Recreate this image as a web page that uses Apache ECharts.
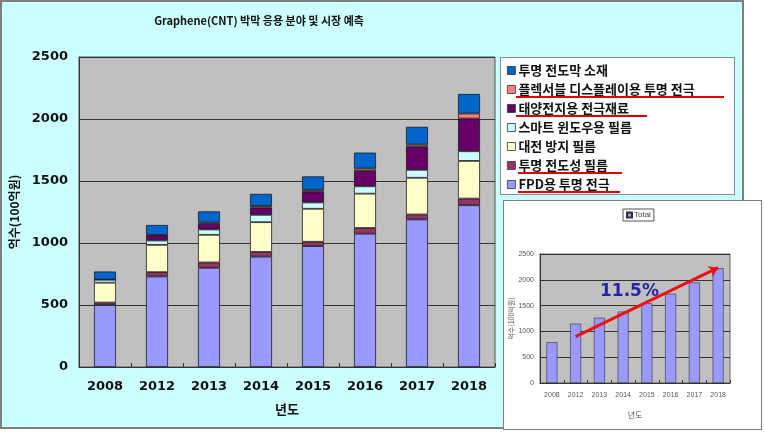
<!DOCTYPE html>
<html>
<head>
<meta charset="utf-8">
<script src="https://cdn.jsdelivr.net/npm/echarts@6/dist/echarts.min.js"></script>
<style>
  body { margin: 0; background: #fff; }
  #wrap { position: relative; width: 764px; height: 433px; }
  #panel { position: absolute; left: 0; top: 0; width: 740px; height: 425px; background: #ccffff; border: 2px solid #7f7f7f; }
  #legendBox { position: absolute; left: 500px; top: 57px; width: 233px; height: 136px; background: #fff; border: 1px solid #8a8a8a; }
  #inset { position: absolute; left: 503px; top: 200px; width: 257px; height: 228px; background: #fff; border: 1px solid #7f7f7f; }
  #main { position: absolute; left: 0; top: 0; width: 764px; height: 433px; }
</style>
</head>
<body>
<div id="wrap">
  <div id="panel"></div>
  <div id="legendBox"></div>
  <div id="inset"></div>
  <div id="main"></div>
</div>
<script>
// 연도
const years = ['2008', '2012', '2013', '2014', '2015', '2016', '2017', '2018']

// 분야별 시장 규모 (억원 x 100), 그림에서 읽은 값
const fpd = [500, 730, 800, 890, 975, 1075, 1190, 1305]          // FPD용 투명 전극
const conductFilm = [20, 35, 43, 38, 35, 46, 40, 53]            // 투명 전도성 필름
const antistatic = [160, 220, 223, 240, 266, 277, 296, 304]     // 대전 방지 필름
const smartWindow = [25, 35, 43, 59, 51, 59, 64, 78]            // 스마트 윈도우용 필름
const solarCell = [0, 40, 46, 59, 89, 124, 188, 264]            // 태양전지용 전극재료
const flexible = [0, 5, 10, 13, 13, 19, 16, 40]                 // 플렉서블 디스플레이용 투명 전극
const material = [65, 80, 90, 97, 108, 129, 143, 158]           // 투명 전도막 소재

// 작은 그림의 Total 값
const totals = [790, 1150, 1265, 1385, 1545, 1730, 1950, 2225]

const yTicks = [0, 500, 1000, 1500, 2000, 2500]

const names = ['FPD용 투명 전극', '투명 전도성 필름', '대전 방지 필름', '스마트 윈도우용 필름', '태양전지용 전극재료', '플렉서블 디스플레이용 투명 전극', '투명 전도막 소재']
const colors = ['#9999ff', '#993366', '#ffffcc', '#ccffff', '#660066', '#ff8080', '#0066cc']
const stacks = [fpd, conductFilm, antistatic, smartWindow, solarCell, flexible, material]

const chart = echarts.init(document.getElementById('main'))

const bold = { fontFamily: 'DejaVu Sans', fontWeight: 'bold', color: '#111' }

const stackSeries = stacks.map((d, i) => ({
  name: names[i],
  type: 'bar',
  stack: 'all',
  xAxisIndex: 0,
  yAxisIndex: 0,
  barWidth: 22,
  data: d,
  itemStyle: { color: colors[i], borderColor: '#1a1a1a', borderWidth: 0.8 }
}))

const option = {
  backgroundColor: 'transparent',
  animation: false,
  title: {
    text: 'Graphene(CNT) 박막 응용 분야 및 시장 예측',
    left: 254,
    top: 10,
    textAlign: 'center',
    textStyle: { fontFamily: 'Noto Sans CJK KR', fontWeight: 'bold', fontSize: 11, color: '#111' }
  },
  legend: [
    {
      data: names.slice().reverse(),
      orient: 'vertical',
      left: 502,
      top: 58,
      itemWidth: 8,
      itemHeight: 8,
      itemGap: 4,
      icon: 'rect',
      textStyle: { fontFamily: 'Noto Sans CJK KR', fontWeight: 'bold', fontSize: 13, lineHeight: 15, color: '#111', padding: [0, 0, 0, -2] },
      itemStyle: { borderColor: '#333', borderWidth: 0.8 }
    },
    {
      data: ['Total'],
      left: 623,
      top: 209,
      itemWidth: 5,
      itemHeight: 5,
      itemGap: 2,
      padding: [2, 3],
      borderColor: '#555',
      borderWidth: 1,
      icon: 'rect',
      textStyle: { fontFamily: 'Liberation Sans', fontSize: 8, color: '#444', padding: [0, 0, 0, -3] }
    }
  ],
  grid: [
    { left: 79, top: 57, width: 416, height: 310, show: true, backgroundColor: '#c0c0c0', borderColor: '#555', borderWidth: 1 },
    { left: 540, top: 254, width: 190, height: 129, show: true, backgroundColor: '#c0c0c0', borderColor: '#666', borderWidth: 1 }
  ],
  xAxis: [
    {
      gridIndex: 0,
      type: 'category',
      data: years,
      name: '년도',
      nameLocation: 'middle',
      nameGap: 36,
      nameTextStyle: { fontFamily: 'Noto Sans CJK KR', fontWeight: 'bold', fontSize: 13, color: '#111' },
      axisLine: { lineStyle: { color: '#333' } },
      axisTick: { show: true, inside: true, length: 4, lineStyle: { color: '#333' } },
      axisLabel: Object.assign({ fontSize: 13, margin: 13 }, bold)
    },
    {
      gridIndex: 1,
      type: 'category',
      data: years,
      name: '년도',
      nameLocation: 'middle',
      nameGap: 28,
      nameTextStyle: { fontFamily: 'Noto Sans CJK KR', fontSize: 8, color: '#555' },
      axisLine: { lineStyle: { color: '#333' } },
      axisTick: { show: true, inside: true, length: 3, lineStyle: { color: '#333' } },
      axisLabel: { fontFamily: 'Liberation Sans', fontSize: 7, color: '#555', margin: 9 }
    }
  ],
  yAxis: [
    {
      gridIndex: 0,
      type: 'value',
      min: yTicks[0],
      max: yTicks[yTicks.length - 1],
      interval: 500,
      name: '억수(100억원)',
      nameLocation: 'middle',
      nameGap: 58,
      nameTextStyle: { fontFamily: 'Noto Sans CJK KR', fontWeight: 'bold', fontSize: 12, color: '#111' },
      axisLine: { show: true, lineStyle: { color: '#333' } },
      axisTick: { show: false },
      axisLabel: Object.assign({ fontSize: 13, margin: 11, formatter: v => String(v) }, bold),
      splitLine: { lineStyle: { color: '#333', width: 1 } }
    },
    {
      gridIndex: 1,
      type: 'value',
      min: yTicks[0],
      max: yTicks[yTicks.length - 1],
      interval: 500,
      name: '억수(100억원)',
      nameLocation: 'middle',
      nameGap: 20,
      nameTextStyle: { fontFamily: 'Noto Sans CJK KR', fontSize: 7, color: '#555' },
      axisLine: { show: true, lineStyle: { color: '#333' } },
      axisTick: { show: false },
      axisLabel: { fontFamily: 'Liberation Sans', fontSize: 7, color: '#555', margin: 6, formatter: v => String(v) },
      splitLine: { lineStyle: { color: '#333', width: 1 } }
    }
  ],
  series: stackSeries.concat([
    {
      name: 'Total',
      type: 'bar',
      xAxisIndex: 1,
      yAxisIndex: 1,
      barWidth: 11,
      data: totals,
      itemStyle: { color: '#9999ff', borderColor: '#333', borderWidth: 0.6 },
      markLine: {
        silent: true,
        symbol: ['none', 'arrow'],
        symbolSize: 9,
        label: { show: false },
        lineStyle: { color: '#ee1111', width: 3, type: 'solid' },
        data: [[{ coord: [1, 900] }, { coord: [7.35, 2235] }]]
      }
    }
  ]),
  graphic: [
    // 범례 빨간 밑줄
    { type: 'line', shape: { x1: 516, y1: 97, x2: 724, y2: 97 }, style: { stroke: '#e00000', lineWidth: 2 } },
    { type: 'line', shape: { x1: 516, y1: 116, x2: 647, y2: 116 }, style: { stroke: '#e00000', lineWidth: 2 } },
    { type: 'line', shape: { x1: 518, y1: 173, x2: 622, y2: 173 }, style: { stroke: '#e00000', lineWidth: 2 } },
    { type: 'line', shape: { x1: 518, y1: 192, x2: 620, y2: 192 }, style: { stroke: '#e00000', lineWidth: 2 } },
    {
      type: 'text',
      left: 600,
      top: 283,
      style: { text: '11.5%', fontFamily: 'DejaVu Sans', fontWeight: 'bold', fontSize: 17, fill: '#2424a8' }
    }
  ]
}

chart.setOption(option)
</script>
</body>
</html>
